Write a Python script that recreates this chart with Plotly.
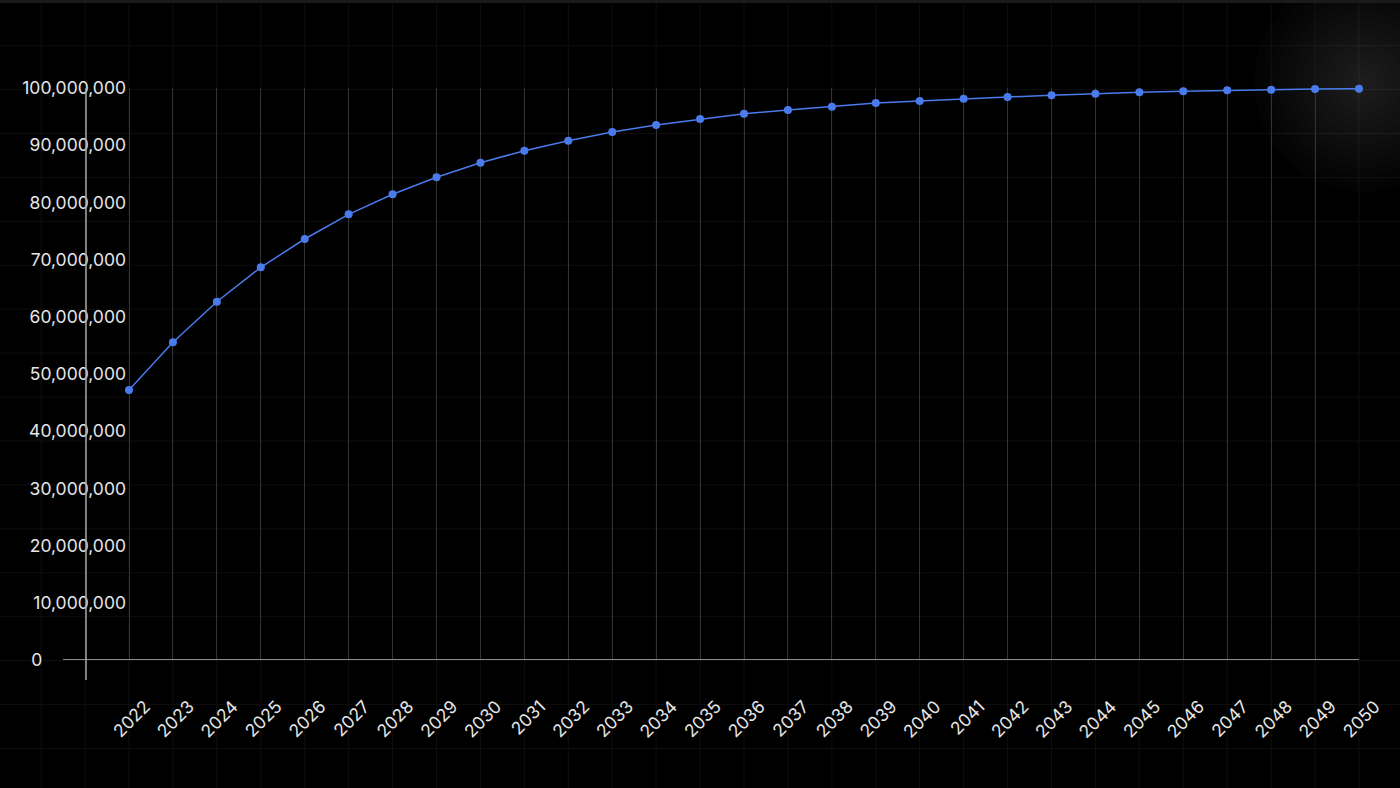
import plotly.graph_objects as go

# ---- data ----
years = list(range(2022, 2051))
users_millions = [47.20, 55.54, 62.64, 68.65, 73.60, 77.92, 81.42, 84.39, 86.94, 89.04,
                  90.79, 92.31, 93.53, 94.58, 95.51, 96.15, 96.73, 97.38, 97.73, 98.13,
                  98.43, 98.72, 99.00, 99.25, 99.42, 99.60, 99.70, 99.83, 99.88]
y_tick_values = [0, 10_000_000, 20_000_000, 30_000_000, 40_000_000, 50_000_000,
                 60_000_000, 70_000_000, 80_000_000, 90_000_000, 100_000_000]
y_tick_labels = ["0" + "\u00a0" * 17, "10,000,000", "20,000,000", "30,000,000", "40,000,000",
                 "50,000,000", "60,000,000", "70,000,000", "80,000,000", "90,000,000",
                 "100,000,000"]
x_tick_labels = [str(y) for y in years]

values = [round(v * 1_000_000) for v in users_millions]

# ---- layout geometry (pixels) ----
W, H = 1400, 788
left_px, right_px, top_px, bottom_px = 127, 1359, 88, 660
first_px = 129
step_px = (right_px - first_px) / (years[-1] - years[0])

FONT = "Inter, 'Noto Sans', sans-serif"
BLUE = "#4a7bec"

fig = go.Figure()
fig.add_trace(go.Scatter(
    x=years, y=values, mode="lines+markers",
    line=dict(color=BLUE, width=1.5),
    marker=dict(color=BLUE, size=8),
    cliponaxis=False, showlegend=False, hoverinfo="x+y",
))

shapes = []
# faint background grid
gx = first_px % step_px
while gx < W:
    shapes.append(dict(type="line", xref="paper", yref="paper", x0=gx / W, x1=gx / W,
                       y0=0, y1=1, line=dict(color="#0e0e0e", width=1), layer="below"))
    gx += step_px
gy = 441 % step_px
while gy < H:
    shapes.append(dict(type="line", xref="paper", yref="paper", x0=0, x1=1,
                       y0=1 - gy / H, y1=1 - gy / H, line=dict(color="#0e0e0e", width=1),
                       layer="below"))
    gy += step_px
# glow top right
cx, cy = 1364, 82
for r in range(110, 0, -8):
    shapes.append(dict(type="circle", xref="paper", yref="paper",
                       x0=(cx - r) / W, x1=(cx + r) / W,
                       y0=1 - (cy + r) / H, y1=1 - (cy - r) / H,
                       fillcolor="rgba(255,255,255,0.011)", line=dict(width=0),
                       layer="below"))
# top border band
shapes.append(dict(type="rect", xref="paper", yref="paper", x0=0, x1=1,
                   y0=1 - 3 / H, y1=1, fillcolor="#1a1a1a", line=dict(width=0),
                   layer="below"))
# x axis baseline
shapes.append(dict(type="line", xref="paper", yref="y", x0=63 / W, x1=right_px / W,
                   y0=0, y1=0, line=dict(color="#b8b8b8", width=1.5), layer="above"))
# y axis line
shapes.append(dict(type="line", xref="paper", yref="paper", x0=86 / W, x1=86 / W,
                   y0=1 - 680 / H, y1=1 - top_px / H,
                   line=dict(color="#a8a8a8", width=1.5), layer="above"))

fig.update_layout(
    width=W, height=H,
    margin=dict(l=0, r=0, t=0, b=0),
    paper_bgcolor="#000000",
    plot_bgcolor="rgba(0,0,0,0)",
    font=dict(family=FONT, color="#e6e6e6", size=16),
    shapes=shapes,
    xaxis=dict(
        domain=[left_px / W, right_px / W],
        range=[years[0] - (first_px - left_px) / step_px, years[-1]],
        tickmode="array", tickvals=years, ticktext=x_tick_labels,
        tickangle=-45, showgrid=True, gridcolor="#333333", gridwidth=1,
        showline=False, zeroline=False, ticks="",
        tickfont=dict(size=17.5, color="#e6e6e6", family=FONT),
        ticklabelstandoff=32, ticklabelshift=16,
        automargin=False, fixedrange=True,
    ),
    yaxis=dict(
        domain=[1 - bottom_px / H, 1 - top_px / H],
        range=[0, 100_000_000],
        tickmode="array", tickvals=y_tick_values, ticktext=y_tick_labels,
        showgrid=False, zeroline=False, showline=False, ticks="",
        tickfont=dict(size=17.5, color="#e6e6e6", family=FONT),
        automargin=False, fixedrange=True,
    ),
)

fig.write_html(
    "out.html",
    config={"displayModeBar": False},
    post_script="document.body.style.margin='0';document.body.style.background='#000';",
)
